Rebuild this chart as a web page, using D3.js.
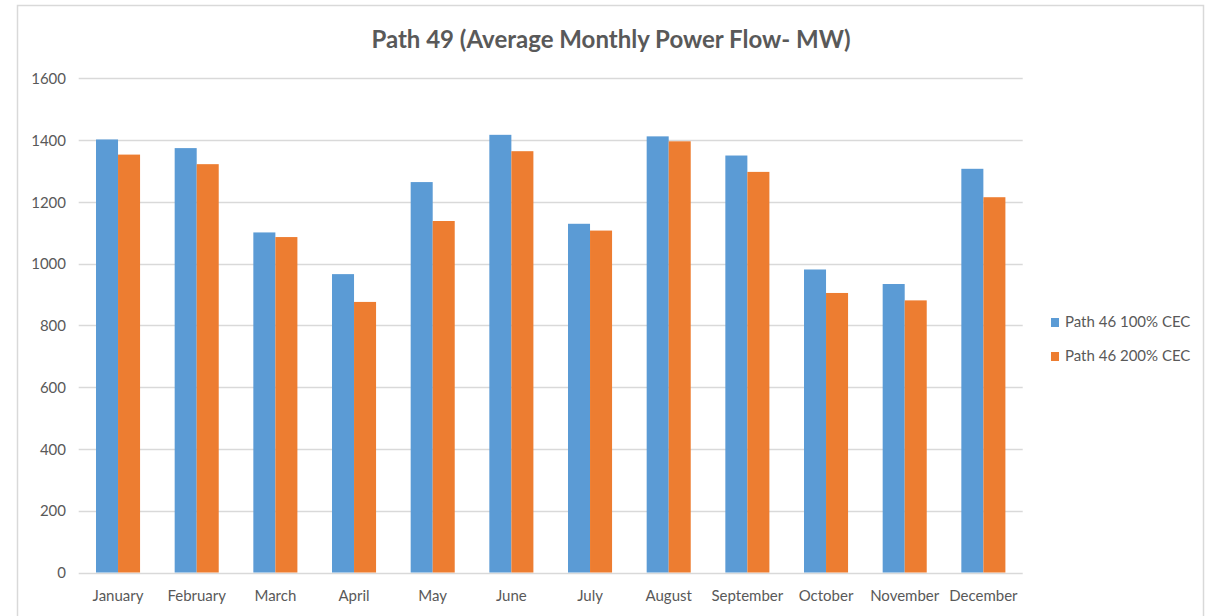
<!DOCTYPE html>
<meta charset="utf-8">
<style>
body{ margin:0; background:#fff; }
text{ font-family: Lato, "Open Sans", sans-serif; fill:#595959; }
.title{ font-size:24px; font-weight:bold; text-anchor:middle; }
.tick text{ font-size:15px; }
.grid line{ stroke:#d9d9d9; }
.legend text{ font-size:15px; }
</style>
<body>
<div id="chart"></div>
<script src="https://d3js.org/d3.v7.min.js"></script>
<script>
var months = ["January","February","March","April","May","June","July","August","September","October","November","December"];
var seriesNames = ["Path 46 100% CEC","Path 46 200% CEC"];
var path100 = [1402,1374,1101,966,1264,1417,1129,1412,1350,981,934,1307];
var path200 = [1353,1322,1086,876,1138,1364,1107,1396,1297,905,881,1215];
var yTicks = [0,200,400,600,800,1000,1200,1400,1600];
var colors = ["#5b9bd5","#ed7d31"];

var W = 1208, H = 616;
var plotL = 78.7, plotR = 1022.7, plotT = 78.3, plotB = 572.5;

var svg = d3.select("#chart").append("svg").attr("width",W).attr("height",H);

// chart frame
svg.append("rect").attr("x",17.5).attr("y",5.5).attr("width",1186).attr("height",640)
    .attr("fill","none").attr("stroke","#d9d9d9").attr("stroke-width",1.5);

svg.append("text").attr("class","title").attr("x",611).attr("y",48)
    .text("Path 49 (Average Monthly Power Flow- MW)");

var y = d3.scaleLinear().domain([0,1600]).range([plotB,plotT]);
var x0 = d3.scaleBand().domain(months).range([plotL,plotR]).paddingInner(0.44).paddingOuter(0.22);
var x1 = d3.scaleBand().domain([0,1]).range([0,x0.bandwidth()]);

// gridlines
svg.append("g").attr("class","grid")
  .selectAll("line").data(yTicks).join("line")
    .attr("x1",plotL).attr("x2",plotR)
    .attr("y1",d=>Math.round(y(d))+0.5).attr("y2",d=>Math.round(y(d))+0.5)
    .attr("stroke-width",1.3);

// y axis labels
var yAxis = d3.axisLeft(y).tickValues(yTicks).tickFormat(d3.format("d")).tickSize(0).tickPadding(0);
svg.append("g").attr("transform","translate(66,0)").call(yAxis)
    .call(g=>g.select(".domain").remove())
    .selectAll("text").attr("dy","0.35em");

// bars
var rows = months.map((m,i)=>({month:m, values:[path100[i],path200[i]]}));
svg.append("g").selectAll("g").data(rows).join("g")
    .attr("transform",d=>"translate("+x0(d.month)+",0)")
  .selectAll("rect").data(d=>d.values.map((v,k)=>({k:k,v:v}))).join("rect")
    .attr("x",d=>x1(d.k))
    .attr("width",x1.bandwidth())
    .attr("y",d=>y(d.v))
    .attr("height",d=>y(0)-y(d.v))
    .attr("fill",d=>colors[d.k]);

// x axis labels
var xAxis = d3.axisBottom(x0).tickSize(0).tickPadding(0);
svg.append("g").attr("transform","translate(0,"+plotB+")").call(xAxis)
    .call(g=>g.select(".domain").remove())
    .selectAll("text").attr("y",28).attr("dy",0);

// legend
var lg = svg.append("g").attr("class","legend").selectAll("g").data(seriesNames).join("g")
    .attr("transform",(d,i)=>"translate(1051,"+(318+i*34)+")");
lg.append("rect").attr("width",8).attr("height",9).attr("fill",(d,i)=>colors[i]);
lg.append("text").attr("x",14).attr("y",9).text(d=>d);
</script>
</body>
</html>
